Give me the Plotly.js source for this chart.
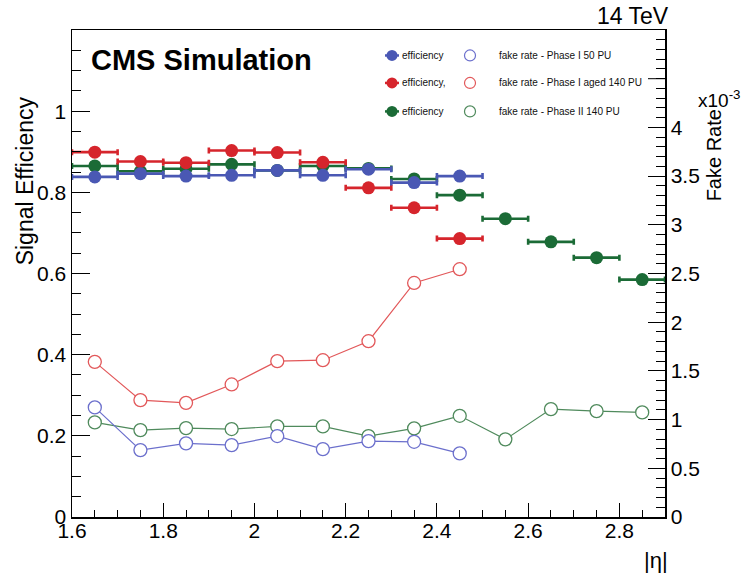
<!DOCTYPE html>
<html>
<head>
<meta charset="utf-8">
<script src="https://cdn.plot.ly/plotly-3.0.1.min.js"></script>
<style>html,body{margin:0;padding:0;background:#fff;}#chart{width:743px;height:583px;}</style>
</head>
<body>
<div id="chart"></div>
<script>
// ---- data ----
var etaPhase1 = [1.65, 1.75, 1.85, 1.95, 2.05, 2.15, 2.25, 2.35, 2.45];
var etaPhase2 = [1.65, 1.75, 1.85, 1.95, 2.05, 2.15, 2.25, 2.35, 2.45, 2.55, 2.65, 2.75, 2.85];
var binHalfWidth = 0.05;

var effPhase1_50PU      = [0.838, 0.846, 0.840, 0.842, 0.854, 0.842, 0.857, 0.824, 0.840];
var effPhase1aged_140PU = [0.899, 0.876, 0.873, 0.903, 0.898, 0.874, 0.811, 0.762, 0.686];
var effPhase2_140PU     = [0.865, 0.852, 0.858, 0.869, 0.854, 0.865, 0.859, 0.833, 0.793, 0.735, 0.678, 0.639, 0.585];

// fake rate in units of 1e-3
var fakePhase1_50PU      = [1.125, 0.687, 0.756, 0.738, 0.831, 0.697, 0.779, 0.772, 0.653];
var fakePhase1aged_140PU = [1.593, 1.200, 1.172, 1.361, 1.600, 1.610, 1.805, 2.403, 2.544];
var fakePhase2_140PU     = [0.971, 0.892, 0.913, 0.903, 0.930, 0.930, 0.831, 0.910, 1.039, 0.797, 1.108, 1.087, 1.074];

var xTickVals = [1.6, 1.8, 2.0, 2.2, 2.4, 2.6, 2.8];
var yTickVals = [0, 0.2, 0.4, 0.6, 0.8, 1.0];
var y2TickVals = [0, 0.5, 1, 1.5, 2, 2.5, 3, 3.5, 4];
var y2UnlabelledMajor = [4.5];

var legendEffLabels  = ['efficiency', 'efficiency,', 'efficiency'];
var legendFakeLabels = ['fake rate - Phase I 50 PU', 'fake rate - Phase I aged 140 PU', 'fake rate - Phase II 140 PU'];

// ---- styles ----
var cBlue = '#4a58b4', cRed = '#d6252c', cGreen = '#1b6b36';
var cBlueO = '#6b6fcc', cRedO = '#e2585a', cGreenO = '#4f8a5c';
var FONT = 'Liberation Sans, Arial, Helvetica, sans-serif';

function effTrace(x, y, col) {
  return {
    x: x, y: y, type: 'scatter', mode: 'markers', yaxis: 'y', showlegend: false,
    marker: {color: col, size: 13, line: {width: 0}},
    error_x: {type: 'constant', value: binHalfWidth, color: col, thickness: 2.6, width: 3}
  };
}
function fakeTrace(x, y, col) {
  return {
    x: x, y: y, type: 'scatter', mode: 'lines+markers', yaxis: 'y2', showlegend: false,
    line: {color: col, width: 1.2},
    marker: {symbol: 'circle', color: 'rgba(255,255,255,1)', size: 13, line: {color: col, width: 1.3}}
  };
}

var data = [
  effTrace(etaPhase2, effPhase2_140PU, cGreen),
  effTrace(etaPhase1, effPhase1aged_140PU, cRed),
  effTrace(etaPhase1, effPhase1_50PU, cBlue),
  fakeTrace(etaPhase2, fakePhase2_140PU, cGreenO),
  fakeTrace(etaPhase1, fakePhase1aged_140PU, cRedO),
  fakeTrace(etaPhase1, fakePhase1_50PU, cBlueO)
];

// plot area in pixels
var L = 72, R = 665, T = 29.5, B = 517;
function px(x) { return (x - L) / (R - L); }
function py(y) { return (B - y) / (B - T); }

var annotations = [
  {text: '<b>CMS Simulation</b>', x: px(89), y: py(60), xanchor: 'left', yanchor: 'middle', font: {size: 29, color: '#000', family: FONT}},
  {text: '14 TeV', x: px(671), y: py(15), xanchor: 'right', yanchor: 'middle', font: {size: 23, color: '#000', family: FONT}},
  {text: 'Signal Efficiency', x: px(25), y: py(181), xanchor: 'center', yanchor: 'middle', textangle: -90, font: {size: 23, color: '#000', family: FONT}},
  {text: 'Fake Rate', x: px(714), y: py(155), xanchor: 'center', yanchor: 'middle', textangle: -90, font: {size: 20, color: '#000', family: FONT}},
  {text: 'x10<sup>-3</sup>', x: px(696), y: py(99), xanchor: 'left', yanchor: 'middle', font: {size: 19, color: '#000', family: FONT}},
  {text: '|\u03b7|', x: px(656), y: py(561), xanchor: 'center', yanchor: 'middle', font: {size: 22, color: '#000', family: FONT}}
];
var shapes = [];
// unlabelled major tick(s) on the right axis
y2UnlabelledMajor.forEach(function (v) {
  shapes.push({type: 'line', xref: 'paper', yref: 'y2', x0: 1, x1: 1 - 17 / (R - L), y0: v, y1: v, line: {color: '#000', width: 1}});
});
var rowY = [55, 82.5, 111];
var effCols = [cBlue, cRed, cGreen], fakeCols = [cBlueO, cRedO, cGreenO];
for (var i = 0; i < 3; i++) {
  shapes.push({type: 'line', xref: 'paper', yref: 'paper', x0: px(385), x1: px(399), y0: py(rowY[i]), y1: py(rowY[i]), line: {color: effCols[i], width: 2.5}});
  shapes.push({type: 'circle', xref: 'paper', yref: 'paper', xsizemode: 'pixel', ysizemode: 'pixel',
    xanchor: px(392), yanchor: py(rowY[i]), x0: -5.5, x1: 5.5, y0: -5.5, y1: 5.5,
    fillcolor: effCols[i], line: {color: effCols[i], width: 0}});
  shapes.push({type: 'circle', xref: 'paper', yref: 'paper', xsizemode: 'pixel', ysizemode: 'pixel',
    xanchor: px(470), yanchor: py(rowY[i]), x0: -5.5, x1: 5.5, y0: -5.5, y1: 5.5,
    fillcolor: 'rgba(0,0,0,0)', line: {color: fakeCols[i], width: 1.2}});
  annotations.push({text: legendEffLabels[i], x: px(400), y: py(rowY[i]), xanchor: 'left', yanchor: 'middle', font: {size: 10, color: '#111', family: FONT}});
  annotations.push({text: legendFakeLabels[i], x: px(497), y: py(rowY[i]), xanchor: 'left', yanchor: 'middle', font: {size: 10, color: '#111', family: FONT}});
}
annotations.forEach(function (a) { a.xref = 'paper'; a.yref = 'paper'; a.showarrow = false; });

var layout = {
  width: 743, height: 583,
  margin: {l: L, r: 743 - R, t: T, b: 583 - B, pad: 0},
  paper_bgcolor: '#fff', plot_bgcolor: '#fff',
  showlegend: false,
  font: {family: FONT, color: '#000'},
  xaxis: {
    range: [1.6, 2.9], tickmode: 'array', tickvals: xTickVals,
    ticks: 'inside', ticklen: 14, tickwidth: 1, tickcolor: '#000',
    showline: true, linecolor: '#000', linewidth: 1.5, mirror: true,
    showgrid: false, zeroline: false, ticklabelstandoff: -6,
    tickfont: {size: 21, family: FONT, color: '#000'},
    minor: {tickmode: 'linear', tick0: 1.6, dtick: 0.05, ticks: 'inside', ticklen: 7, tickwidth: 1, tickcolor: '#000', showgrid: false}
  },
  yaxis: {
    range: [0, 1.2], tickmode: 'array', tickvals: yTickVals,
    ticks: 'inside', ticklen: 18, tickwidth: 1, tickcolor: '#000',
    showline: true, linecolor: '#000', linewidth: 1.5,
    showgrid: false, zeroline: false,
    tickfont: {size: 21, family: FONT, color: '#000'},
    minor: {tickmode: 'linear', tick0: 0, dtick: 0.05, ticks: 'inside', ticklen: 9, tickwidth: 1, tickcolor: '#000', showgrid: false}
  },
  yaxis2: {
    overlaying: 'y', side: 'right', anchor: 'x',
    range: [0, 5], tickmode: 'array', tickvals: y2TickVals,
    ticks: 'inside', ticklen: 17, tickwidth: 1, tickcolor: '#000',
    showline: true, linecolor: '#000', linewidth: 1.5,
    showgrid: false, zeroline: false,
    tickfont: {size: 21, family: FONT, color: '#000'},
    minor: {tickmode: 'linear', tick0: 0, dtick: 0.1, ticks: 'inside', ticklen: 9, tickwidth: 1, tickcolor: '#000', showgrid: false}
  },
  annotations: annotations,
  shapes: shapes
};

Plotly.newPlot('chart', data, layout, {displayModeBar: false, staticPlot: true});
</script>
</body>
</html>
